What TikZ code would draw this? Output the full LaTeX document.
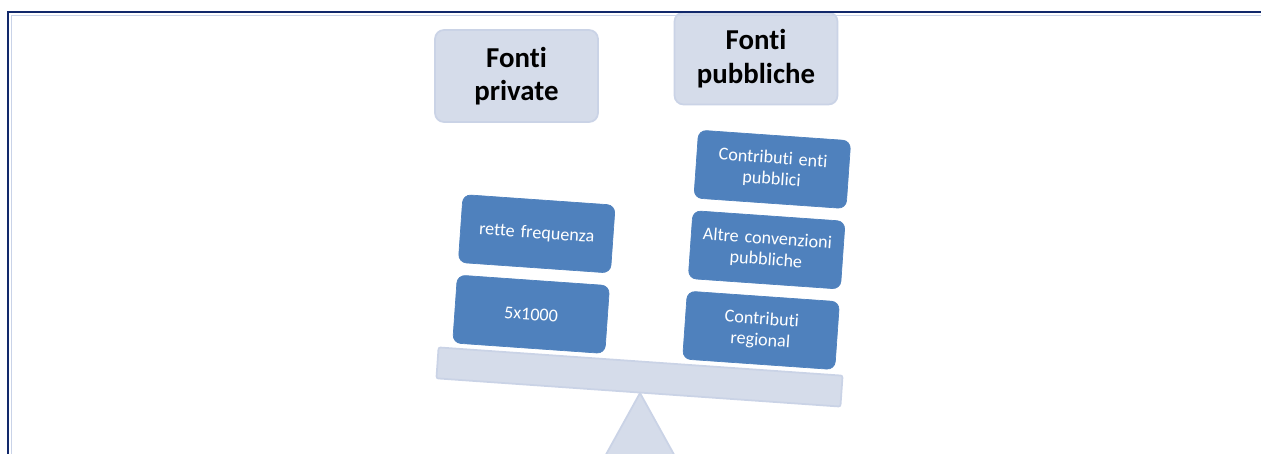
\documentclass[tikz,border=0pt]{standalone}
\usepackage{fontspec}
\setmainfont{Carlito}[Ligatures={NoCommon,NoRequired,NoContextual}]
\usepackage{tikz}
\usetikzlibrary{positioning}
\definecolor{framecol}{HTML}{12296B}
\definecolor{framelight}{HTML}{C9D3E8}
\definecolor{headfill}{HTML}{D5DCEA}
\definecolor{headline}{HTML}{CAD3E6}
\definecolor{coinfill}{HTML}{4F81BD}

\begin{document}
\begin{tikzpicture}[
  node distance=0.24cm and 1cm,
  headnode/.style={draw=headline,line width=1pt,fill=headfill,rounded corners=0.18cm,minimum width=3.26cm,minimum height=1.84cm,align=center,font=\fontsize{16.4}{19}\selectfont\bfseries},
  coinnode/.style={draw=coinfill,fill=coinfill,rounded corners=0.16cm,minimum width=3.05cm,minimum height=1.36cm,text width=2.85cm,align=center,inner sep=0pt,text=white,font=\fontsize{10.3}{12}\selectfont},
  beamnode/.style={draw=headline,line width=1pt,fill=headfill,rounded corners=0.04cm,minimum width=8.1cm,minimum height=0.62cm,inner sep=0pt}
]
\useasboundingbox (0,0) rectangle (25.22,9.06);
\clip (0,0) rectangle (25.22,9.06);

\node[headnode] (priv) at (10.33,7.54) {Fonti\\private};
\node[headnode] (pubb) at (15.12,7.89) {Fonti\\pubbliche};

\filldraw[fill=headfill,draw=headline,line width=1pt] (12.8,1.2) -- (13.74,-0.5) -- (11.86,-0.5) -- cycle;

\begin{scope}[shift={(12.79,1.52)},rotate=-4,transform shape]
\node[beamnode] (beam) at (0,0) {};

\node[coinnode] (five) at (-2.25,1.1) {5x1000};
\node[coinnode,above =of five] (rette) {rette frequenza};

\node[coinnode] (regio) at (2.36,1.1) {Contributi\\regional};
\node[coinnode,above =of regio] (altre) {Altre convenzioni\\pubbliche};
\node[coinnode,above =of altre] (enti) {Contributi enti\\pubblici};
\end{scope}

\draw[framelight,line width=0.6pt] (0.23,-0.2) -- (0.23,8.75) -- (25.5,8.75);
\draw[framecol,line width=1.5pt] (0.16,-0.2) -- (0.16,8.82) -- (25.5,8.82);

\end{tikzpicture}
\end{document}
